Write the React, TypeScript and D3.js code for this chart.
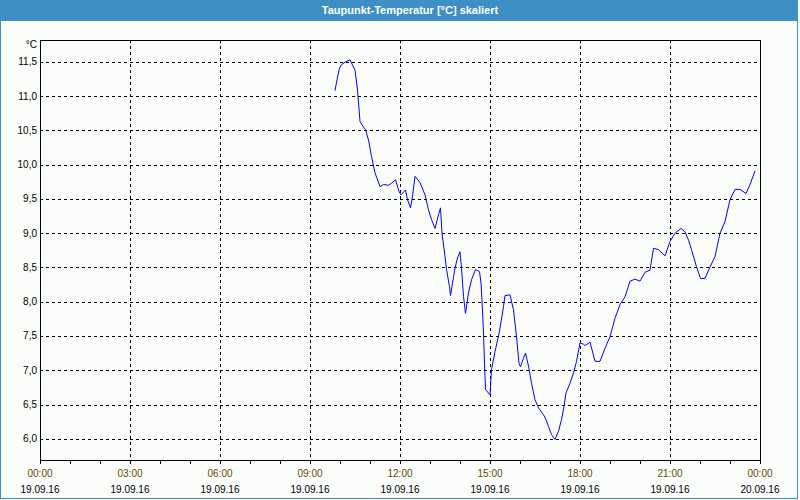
import React from "react";
import * as d3 from "d3";

// dew point readings, 19.09.16
const times = [
  "09:50", "09:54", "09:59", "10:03", "10:11", "10:20", "10:30", "10:35", "10:40", "10:47",
  "10:51", "10:57", "11:03", "11:10", "11:20", "11:27", "11:37", "11:43", "11:51", "11:58",
  "12:02", "12:11", "12:15", "12:21", "12:25", "12:30", "12:40", "12:50", "12:57", "13:03",
  "13:10", "13:17", "13:21", "13:24", "13:30", "13:33", "13:39", "13:41", "13:45", "13:50",
  "13:55", "14:00", "14:03", "14:07", "14:11", "14:17", "14:23", "14:31", "14:39", "14:42",
  "14:45", "14:47", "14:49", "14:51", "15:00", "15:03", "15:10", "15:19", "15:27", "15:30",
  "15:40", "15:47", "15:53", "15:58", "16:01", "16:07", "16:11", "16:17", "16:23", "16:30",
  "16:37", "16:47", "16:52", "16:57", "17:03", "17:10", "17:17", "17:23", "17:28", "17:32",
  "17:40", "17:47", "17:53", "18:00", "18:07", "18:10", "18:20", "18:30", "18:40", "18:50",
  "19:00", "19:10", "19:20", "19:30", "19:40", "19:50", "20:00", "20:10", "20:20", "20:27",
  "20:37", "20:50", "21:00", "21:10", "21:22", "21:30", "21:37", "21:43", "21:53", "22:01",
  "22:10", "22:19", "22:30", "22:40", "22:50", "23:00", "23:10", "23:20", "23:32", "23:40",
  "23:50",
];
const dewPoint = [
  11.08, 11.24, 11.41, 11.46, 11.5, 11.53, 11.38, 11.09, 10.63, 10.55,
  10.51, 10.36, 10.12, 9.88, 9.68, 9.71, 9.7, 9.73, 9.78, 9.61,
  9.56, 9.63, 9.49, 9.37, 9.54, 9.83, 9.74, 9.56, 9.34, 9.2,
  9.07, 9.27, 9.37, 9.0, 8.66, 8.47, 8.22, 8.09, 8.27, 8.49,
  8.64, 8.73, 8.49, 8.08, 7.83, 8.13, 8.32, 8.47, 8.44, 8.27,
  7.88, 7.54, 7.1, 6.72, 6.64, 7.01, 7.27, 7.57, 7.93, 8.09,
  8.1, 7.88, 7.49, 7.1, 7.05, 7.18, 7.25, 7.06, 6.81, 6.57,
  6.45, 6.35, 6.28, 6.18, 6.06, 5.99, 6.11, 6.28, 6.47, 6.67,
  6.81, 6.96, 7.13, 7.4, 7.38, 7.36, 7.41, 7.13, 7.13, 7.32,
  7.49, 7.76, 7.96, 8.07, 8.3, 8.33, 8.3, 8.43, 8.46, 8.78,
  8.76, 8.67, 8.88, 9.0, 9.07, 9.02, 8.9, 8.76, 8.51, 8.34,
  8.34, 8.49, 8.66, 9.0, 9.17, 9.49, 9.64, 9.64, 9.58, 9.71,
  9.91,
];
const yTicks = [6.0, 6.5, 7.0, 7.5, 8.0, 8.5, 9.0, 9.5, 10.0, 10.5, 11.0, 11.5];
const title = "Taupunkt-Temperatur [°C] skaliert";
const unit = "°C";

const W = 800;
const H = 500;
const margin = { top: 40, right: 40, bottom: 40, left: 40 };
const blue = "#3d8fc6";
const font = "'Liberation Sans', Arial, sans-serif";

const parse = d3.timeParse("%Y-%m-%d %H:%M");
const day0 = parse("2016-09-19 00:00") as Date;
const day1 = parse("2016-09-20 00:00") as Date;

export default function App() {
  const x = d3.scaleTime().domain([day0, day1]).range([margin.left, W - margin.right]);
  const y = d3.scaleLinear().domain([5.69, 11.82]).range([H - margin.bottom, margin.top]);

  const points = times.map((t, i) => ({
    date: parse("2016-09-19 " + t) as Date,
    v: dewPoint[i],
  }));

  const line = d3
    .line<{ date: Date; v: number }>()
    .x((d) => x(d.date))
    .y((d) => y(d.v));

  const hourTicks = d3.timeHour.range(day0, d3.timeHour.offset(day1, 1));
  const labelTicks = d3.timeHour.every(3)!.range(day0, d3.timeHour.offset(day1, 1));
  const fmtTime = d3.timeFormat("%H:%M");
  const fmtDate = d3.timeFormat("%d.%m.%y");
  const fmtY = (v: number) => d3.format(".1f")(v).replace(".", ",");

  const [x0, x1] = x.range();
  const [yb, yt] = y.range();

  return (
    <div style={{ position: "fixed", left: 0, top: 0 }}>
      <svg width={W} height={H} style={{ display: "block", fontFamily: font }}>
        <rect x={0} y={0} width={W} height={H} fill="#fbfdfb" />
        {/* window frame */}
        <rect x={0.5} y={0.5} width={W - 3} height={H - 2} fill="none" stroke={blue} />
        <rect x={0} y={0} width={W - 2} height={21} fill={blue} />
        <text x={410} y={14} textAnchor="middle" fill="#fff" fontSize={11} fontWeight="bold">
          {title}
        </text>

        {/* grid */}
        {yTicks.map((t) => (
          <line
            key={"gy" + t}
            x1={x0}
            x2={x1}
            y1={Math.round(y(t)) + 0.5}
            y2={Math.round(y(t)) + 0.5}
            stroke="#000"
            strokeDasharray="3 3"
            shapeRendering="crispEdges"
          />
        ))}
        {labelTicks.slice(1, -1).map((d) => (
          <line
            key={"gx" + d.getTime()}
            x1={Math.round(x(d)) + 0.5}
            x2={Math.round(x(d)) + 0.5}
            y1={yt}
            y2={yb}
            stroke="#000"
            strokeDasharray="3 3"
            shapeRendering="crispEdges"
          />
        ))}

        {/* plot frame */}
        <rect
          x={x0 + 0.5}
          y={yt + 0.5}
          width={x1 - x0}
          height={yb - yt}
          fill="none"
          stroke="#000"
          shapeRendering="crispEdges"
        />

        {/* x axis */}
        {hourTicks.map((d) => (
          <line
            key={"t" + d.getTime()}
            x1={Math.round(x(d)) + 0.5}
            x2={Math.round(x(d)) + 0.5}
            y1={yb}
            y2={yb + 4}
            stroke="#000"
            shapeRendering="crispEdges"
          />
        ))}
        {labelTicks.map((d) => (
          <g key={"l" + d.getTime()} fontSize={10} textAnchor="middle">
            <text x={x(d)} y={477} fill="#5e4b00">
              {fmtTime(d)}
            </text>
            <text x={x(d)} y={493} fill="#000">
              {fmtDate(d)}
            </text>
          </g>
        ))}

        {/* y axis labels */}
        {yTicks.map((t) => (
          <text
            key={"yl" + t}
            x={37}
            y={y(t)}
            dy="0.35em"
            textAnchor="end"
            fontSize={10}
            fill="#000"
          >
            {fmtY(t)}
          </text>
        ))}
        <text x={37} y={44} dy="0.35em" textAnchor="end" fontSize={10} fill="#000">
          {unit}
        </text>

        {/* series */}
        <path d={line(points) ?? ""} fill="none" stroke="#0000ff" strokeWidth={1} />
      </svg>
    </div>
  );
}
